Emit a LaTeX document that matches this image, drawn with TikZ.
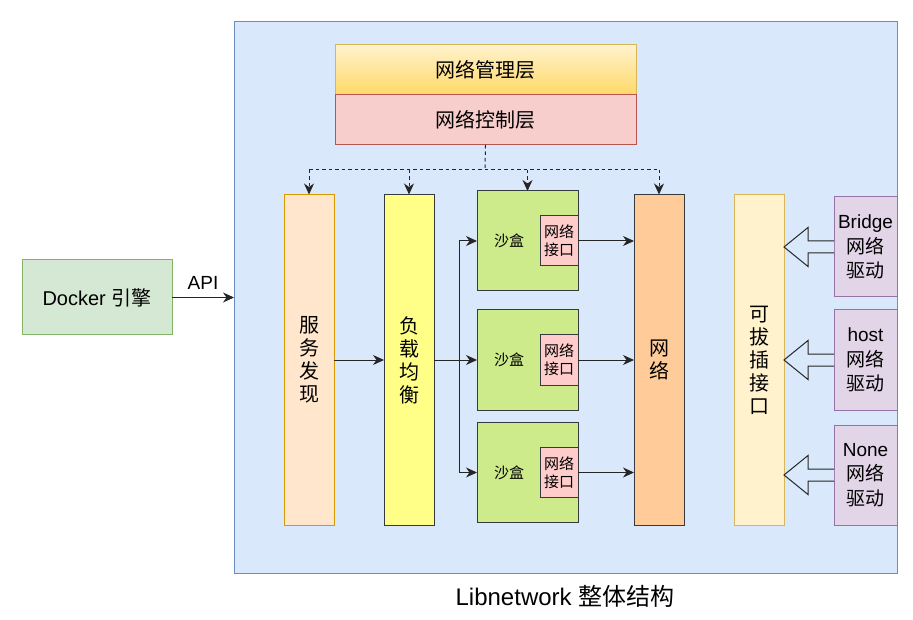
\documentclass[tikz,border=0pt]{standalone}
\usepackage{fontspec}
\setmainfont{Liberation Sans}
\newfontfamily\cjk{Noto Sans CJK SC}
\usetikzlibrary{arrows.meta}
\definecolor{contF}{HTML}{DAE8FC}\definecolor{contS}{HTML}{6C8EBF}
\definecolor{dockF}{HTML}{D5E8D4}\definecolor{dockS}{HTML}{82B366}
\definecolor{mgT}{HTML}{FFF2CC}\definecolor{mgB}{HTML}{FFD966}\definecolor{mgS}{HTML}{D6B656}
\definecolor{ctF}{HTML}{F8CECC}\definecolor{ctS}{HTML}{B85450}
\definecolor{svF}{HTML}{FFE6CC}\definecolor{svS}{HTML}{D79B00}
\definecolor{lbF}{HTML}{FFFF88}\definecolor{grS}{HTML}{36393D}
\definecolor{sbF}{HTML}{CDEB8B}\definecolor{ifF}{HTML}{FFCCCC}
\definecolor{ntF}{HTML}{FFCC99}\definecolor{plF}{HTML}{FFF2CC}
\definecolor{drF}{HTML}{E1D5E7}\definecolor{drS}{HTML}{9673A6}
\tikzset{
  bx/.style={draw, line width=1pt, inner sep=0pt, outer sep=0pt},
  cn/.style={font=\cjk\fontsize{20}{23}\selectfont, align=center},
  col/.style={bx, minimum width=50pt, minimum height=331pt, cn},
  arr/.style={line width=1pt, draw=black!85, -{Stealth[length=11pt,width=10pt,inset=3.5pt]}},
  dsh/.style={line width=1pt, draw=black!85, dash pattern=on 3.5pt off 3pt},
  blk/.style={line width=1pt, draw=black!85, fill=contF},
}
\begin{document}
\begin{tikzpicture}[x=1pt,y=-1pt]
\useasboundingbox (0,0) rectangle (913,620);
\node[bx, draw=contS, fill=contF, minimum width=663pt, minimum height=551pt] (cont) at (565.5,297.5) {};
\node[bx, draw=dockS, fill=dockF, minimum width=150pt, minimum height=75pt, font=\fontsize{20}{23}\selectfont] (docker) at (97,297.5) {Docker {\cjk 引擎}};
\draw[arr] (docker.east) -- (cont.west) node[midway, above=4pt, font=\fontsize{19}{22}\selectfont] (api) {API};
\node[bx, draw=mgS, top color=mgT, bottom color=mgB, minimum width=301pt, minimum height=50pt, cn] (mgmt) at (485.5,70) {网络管理层};
\node[bx, draw=ctS, fill=ctF, minimum width=301pt, minimum height=50pt, cn] (ctrl) at (485.5,120) {网络控制层};
\node[col, draw=svS, fill=svF] (svc) at (309,360) {服\\务\\发\\现};
\node[col, draw=grS, fill=lbF] (lb) at (409,360) {负\\载\\均\\衡};
\node[col, draw=grS, fill=ntF] (net) at (659,360) {网\\络};
\node[col, draw=mgS, fill=plF] (plug) at (759,360) {可\\拔\\插\\接\\口};
\foreach \i/\y in {1/241,2/360,3/472.5}{
  \node[bx, draw=grS, fill=sbF, minimum width=101pt, minimum height=100pt] (sb\i) at (527.5,\y) {};
  \node[font=\cjk\fontsize{15}{18}\selectfont] (sbt\i) at (509,\y) {沙盒};
  \node[bx, draw=grS, fill=ifF, minimum width=38pt, minimum height=50pt, font=\cjk\fontsize{15}{18}\selectfont, align=center] (if\i) at (559,\y) {网络\\接口};
  \draw[arr] (if\i.east) -- (if\i.east -| net.west);
}
\foreach \i/\n/\y in {1/Bridge/247,2/host/360,3/None/475}{
  \node[bx, draw=drS, fill=drF, minimum width=63pt, minimum height=100pt, align=center, font=\fontsize{19}{24.5}\selectfont] (dr\i) at (865.5,\y) {\n\\{\cjk 网络}\\{\cjk 驱动}};
  \draw[blk, shift={(dr\i.west)}] (0,-6) -- (-26,-6) -- (-26,-19.5) -- (-50,0) -- (-26,19.5) -- (-26,6) -- (0,6);
}
% dashed distribution
\coordinate (split) at (485,170);
\draw[dsh] (ctrl.south) -- (split);
\draw[dsh] (svc.north |- split) -- (net.north |- split);
\draw[arr, dsh] (svc.north |- split) -- (svc.north);
\draw[arr, dsh] (lb.north |- split) -- (lb.north);
\draw[arr, dsh] (sb1.north |- split) -- (sb1.north);
\draw[arr, dsh] (net.north |- split) -- (net.north);
% solid
\draw[arr] (svc.east) -- (lb.west);
\draw[arr] (lb.east) -- (sb2.west);
\coordinate (br) at (459,360);
\draw[line width=1pt, draw=black!85] (br |- sb1.west) -- (br |- sb3.west);
\draw[arr] (br |- sb1.west) -- (sb1.west);
\draw[arr] (br |- sb3.west) -- (sb3.west);
\node[font=\fontsize{24}{27}\selectfont] (cap) at (565,596) {Libnetwork {\cjk 整体结构}};
\end{tikzpicture}
\end{document}
